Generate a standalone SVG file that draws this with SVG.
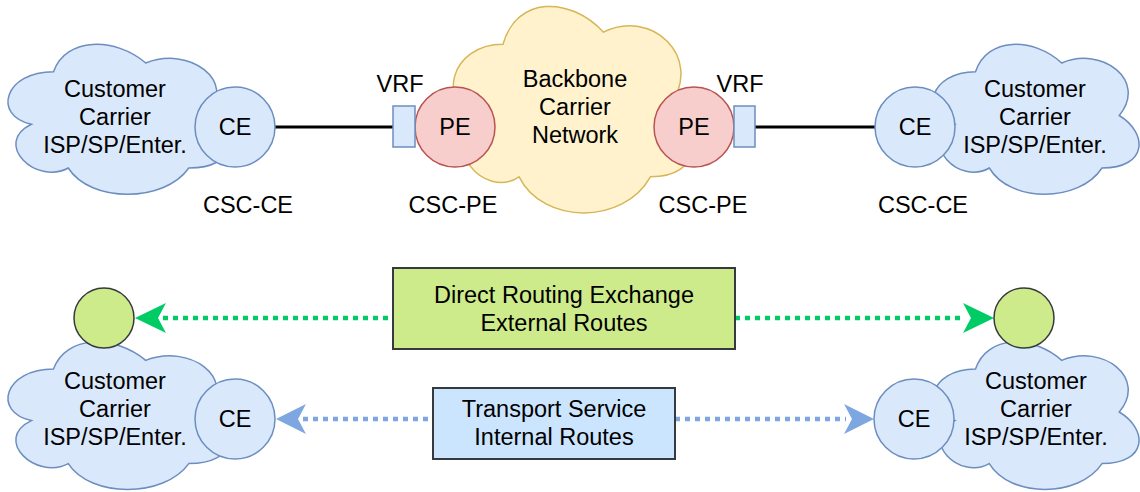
<svg xmlns="http://www.w3.org/2000/svg" width="1140" height="492" viewBox="0 0 1140 492">
<defs>
<style>
text{font-family:"Liberation Sans",Arial,Helvetica,sans-serif;font-size:23.5px;fill:#000;text-anchor:middle}
.cloud{fill:#dae8fc;stroke:#6c8ebf;stroke-width:1.5}
.bb{fill:#fff2cc;stroke:#d6b656;stroke-width:1.5}
.ce{fill:#dae8fc;stroke:#6c8ebf;stroke-width:1.5}
.pe{fill:#f8cecc;stroke:#b85450;stroke-width:1.5}
.vrf{fill:#dae8fc;stroke:#6c8ebf;stroke-width:1.5}
.gc{fill:#cdeb8b;stroke:#36393d;stroke-width:1.5}
.gbox{fill:#cdeb8b;stroke:#36393d;stroke-width:2}
.bbox{fill:#cce5ff;stroke:#36393d;stroke-width:2}
.link{stroke:#000;stroke-width:3;fill:none}
.gdot{stroke:#00cc66;stroke-width:4.5;stroke-dasharray:5 5;fill:none}
.bdot{stroke:#7ea6e0;stroke-width:4.5;stroke-dasharray:5 5;fill:none}
.garr{fill:#00cc66}
.barr{fill:#7ea6e0}
</style>
</defs>

<g id="backbone">
<path class="bb" vector-effect="non-scaling-stroke" transform="translate(436,-16) scale(2.68,2.41)" d="M25,25 C5,25 0,50 16,55 C0,66 18,90 31,80 C40,100 70,100 80,80 C100,80 100,60 87.5,50 C100,30 80,10 62.5,20 C50,5 30,5 25,25 Z"/>
<text x="575" y="87">Backbone</text>
<text x="575" y="115">Carrier</text>
<text x="575" y="143">Network</text>
</g>

<g id="cloud-top-left">
<path class="cloud" vector-effect="non-scaling-stroke" transform="translate(-8,28) scale(2.46,1.75)" d="M25,25 C5,25 0,50 16,55 C0,66 18,90 31,80 C40,100 70,100 80,80 C100,80 100,60 87.5,50 C100,30 80,10 62.5,20 C50,5 30,5 25,25 Z"/>
<text x="115" y="97">Customer</text>
<text x="115" y="125">Carrier</text>
<text x="115" y="153">ISP/SP/Enter.</text>
</g>

<g id="cloud-top-right">
<path class="cloud" vector-effect="non-scaling-stroke" transform="translate(918,28) scale(2.30,1.75)" d="M25,25 C5,25 0,50 16,55 C0,66 18,90 31,80 C40,100 70,100 80,80 C100,80 100,60 87.5,50 C100,30 80,10 62.5,20 C50,5 30,5 25,25 Z"/>
<text x="1035" y="97">Customer</text>
<text x="1035" y="125">Carrier</text>
<text x="1035" y="153">ISP/SP/Enter.</text>
</g>

<g id="cloud-bottom-left">
<path class="cloud" vector-effect="non-scaling-stroke" transform="translate(-8,326) scale(2.46,1.72)" d="M25,25 C5,25 0,50 16,55 C0,66 18,90 31,80 C40,100 70,100 80,80 C100,80 100,60 87.5,50 C100,30 80,10 62.5,20 C50,5 30,5 25,25 Z"/>
<text x="115" y="389">Customer</text>
<text x="115" y="417">Carrier</text>
<text x="115" y="445">ISP/SP/Enter.</text>
</g>

<g id="cloud-bottom-right">
<path class="cloud" vector-effect="non-scaling-stroke" transform="translate(918,326) scale(2.30,1.72)" d="M25,25 C5,25 0,50 16,55 C0,66 18,90 31,80 C40,100 70,100 80,80 C100,80 100,60 87.5,50 C100,30 80,10 62.5,20 C50,5 30,5 25,25 Z"/>
<text x="1036" y="389">Customer</text>
<text x="1036" y="417">Carrier</text>
<text x="1036" y="445">ISP/SP/Enter.</text>
</g>

<g id="connectors">
<line class="link" x1="275" y1="127" x2="393" y2="127"/>
<line class="link" x1="755" y1="127" x2="875" y2="127"/>
<line class="gdot" x1="163" y1="318" x2="393" y2="318"/>
<line class="gdot" x1="735" y1="318" x2="965" y2="318"/>
<polygon class="garr" points="135,318 166,303 158,318 166,333"/>
<polygon class="garr" points="994,318 963,303 971,318 963,333"/>
<line class="bdot" x1="303" y1="419" x2="433" y2="419"/>
<line class="bdot" x1="675" y1="419" x2="846" y2="419"/>
<polygon class="barr" points="276,419 306,404 298,419 306,434"/>
<polygon class="barr" points="874,419 844,404 852,419 844,434"/>
</g>

<g id="ce-top-left">
<circle class="ce" cx="235" cy="127" r="40"/>
<text x="235" y="135">CE</text>
</g>
<g id="ce-top-right">
<circle class="ce" cx="915" cy="127" r="40"/>
<text x="915" y="135">CE</text>
</g>
<g id="pe-left">
<circle class="pe" cx="455" cy="127" r="40"/>
<text x="455" y="135">PE</text>
</g>
<g id="pe-right">
<circle class="pe" cx="694" cy="127" r="40"/>
<text x="694" y="135">PE</text>
</g>
<g id="vrf-left">
<rect class="vrf" x="393" y="106" width="22" height="41"/>
<text x="400" y="92">VRF</text>
</g>
<g id="vrf-right">
<rect class="vrf" x="734" y="106" width="21" height="41"/>
<text x="740" y="92">VRF</text>
</g>
<g id="label-csc-ce-left"><text x="248" y="213">CSC-CE</text></g>
<g id="label-csc-pe-left"><text x="453" y="213">CSC-PE</text></g>
<g id="label-csc-pe-right"><text x="703" y="213">CSC-PE</text></g>
<g id="label-csc-ce-right"><text x="923" y="213">CSC-CE</text></g>

<g id="green-left"><circle class="gc" cx="104" cy="318" r="30"/></g>
<g id="green-right"><circle class="gc" cx="1024" cy="318" r="30"/></g>

<g id="direct-routing">
<rect class="gbox" x="393" y="268" width="342" height="81"/>
<text x="564" y="303">Direct Routing Exchange</text>
<text x="564" y="331">External Routes</text>
</g>
<g id="transport-service">
<rect class="bbox" x="433" y="388" width="242" height="71"/>
<text x="554" y="417">Transport Service</text>
<text x="554" y="445">Internal Routes</text>
</g>

<g id="ce-bottom-left">
<circle class="ce" cx="235" cy="419" r="40"/>
<text x="235" y="427">CE</text>
</g>
<g id="ce-bottom-right">
<circle class="ce" cx="914" cy="419" r="40"/>
<text x="914" y="427">CE</text>
</g>
</svg>
